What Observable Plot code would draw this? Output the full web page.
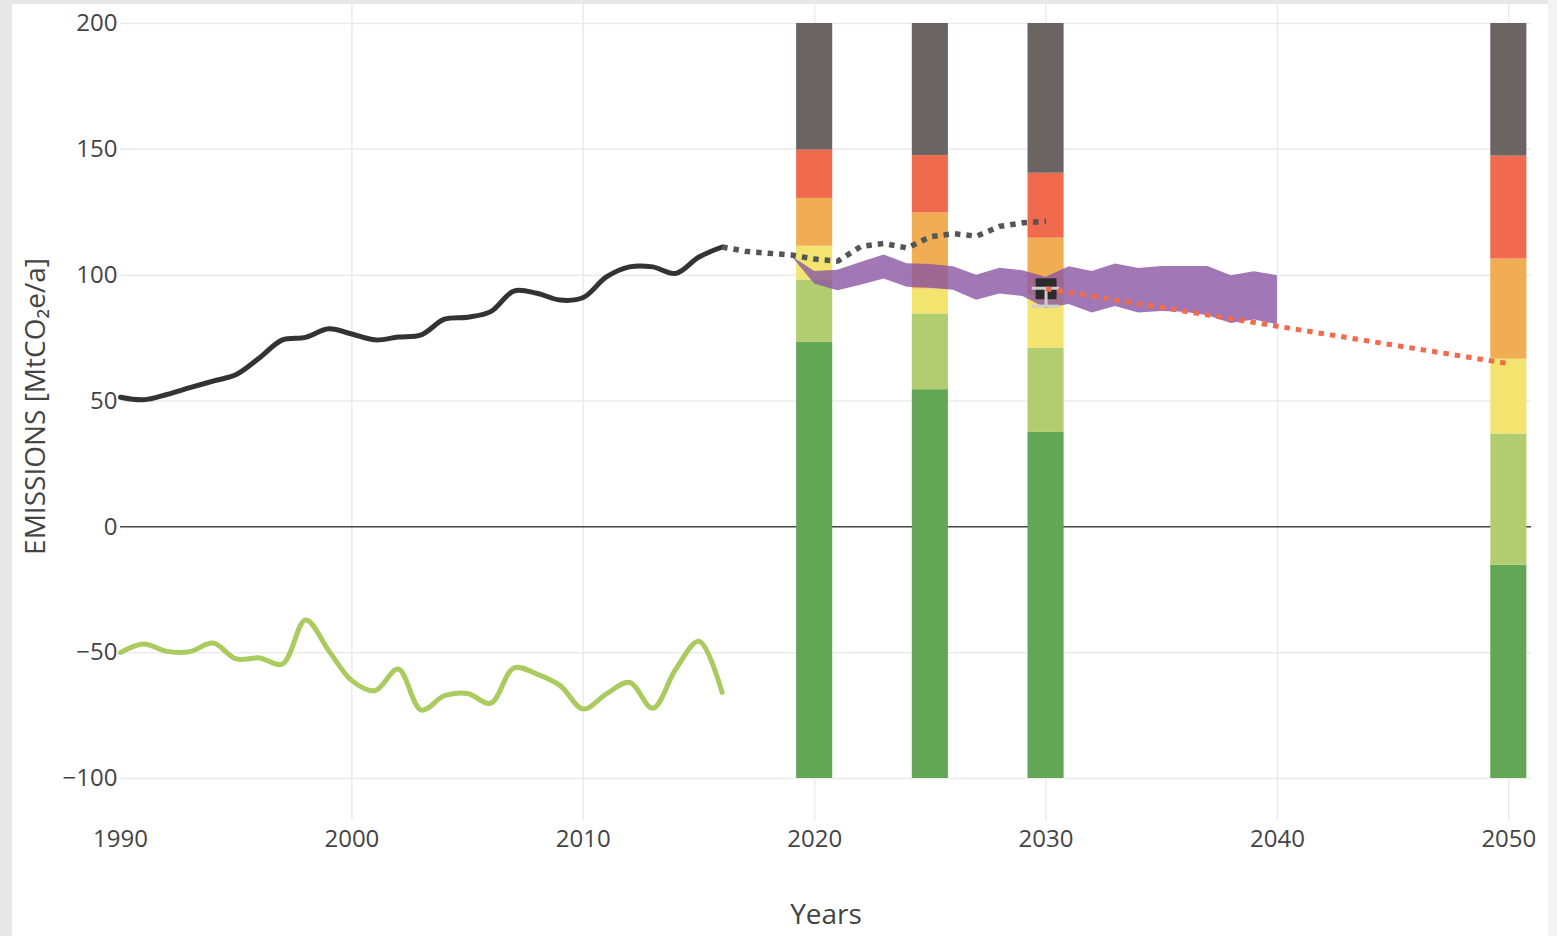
<!DOCTYPE html>
<html><head><meta charset="utf-8">
<script src="https://cdn.jsdelivr.net/npm/d3@7"></script>
<script src="https://cdn.jsdelivr.net/npm/@observablehq/plot@0.6"></script>
<style>
html,body{margin:0;padding:0;overflow:hidden;background:#e8e8e8;font-family:"Open Sans",sans-serif;}
#card{position:absolute;left:12px;top:4px;width:1536px;height:932px;background:#fff;}
#strip{position:absolute;left:1548px;top:0;width:9px;height:936px;background:#f4f4f4;}
#chart{position:absolute;left:0;top:0;}
</style></head><body>
<div id="card"></div><div id="strip"></div><div id="chart"></div>
<script>
// ---- data ----
const xTicks = [1990, 2000, 2010, 2020, 2030, 2040, 2050];
const yTicks = [-100, -50, 0, 50, 100, 150, 200];
const xLabel = "Years";
const yLabel = "EMISSIONS [MtCO₂e/a]";

const histYears = [1990,1991,1992,1993,1994,1995,1996,1997,1998,1999,2000,2001,2002,2003,2004,2005,2006,2007,2008,2009,2010,2011,2012,2013,2014,2015,2016];
const histEmissions = [51.5,50.5,52.6,55.3,57.9,60.5,67.1,74.3,75.3,78.7,76.6,74.3,75.4,76.3,82.5,83.3,85.5,93.7,92.8,90.1,91.1,99.3,103.3,103.3,100.7,107.2,111.2];
const histSinks = [-50,-46.6,-49.5,-49.6,-46.2,-52.5,-52.1,-54.5,-37.0,-49.2,-61.1,-65.1,-56.5,-72.8,-67.1,-66.2,-70.1,-56.1,-58.5,-63.1,-72.4,-66.4,-61.8,-72.1,-56.5,-45.5,-65.8];

const projYears = [2016,2017,2018,2019,2020,2021,2022,2023,2024,2025,2026,2027,2028,2029,2030];
const projValues = [111.2,109.5,108.7,108.0,106.4,105.6,111.4,112.6,110.8,115.3,116.5,115.5,119.4,120.8,121.4];

const rangeYears = [2019,2020,2021,2022,2023,2024,2025,2026,2027,2028,2029,2030,2031,2032,2033,2034,2035,2036,2037,2038,2039,2040];
const rangeHigh = [107.5,101.5,102,105,108,104.5,104.2,103.3,100,102.7,101.8,99.2,103.3,101.5,104.4,102.6,103.4,103.4,103.4,99.8,101.4,99.8];
const rangeLow  = [107.5,96.5,93.8,96,98.5,95.2,94.8,94,90,92.5,91.5,86.8,88.3,85,87.5,85,85.6,85.3,83.9,80.8,82.2,80.3];

const pathwayYears = [2030, 2050];
const pathwayValues = [94.6, 64.8];

const targetYear = [2030];
const targetValue = [94.6];
const targetLow = [87.7];
const targetHigh = [94.8];

const barYears = [2020, 2025, 2030, 2050];
const bandColors = ["#63a656", "#b2cd6f", "#f2e46f", "#f0ad54", "#f06b4e", "#6b6462"];
const levels2020 = [-100, 73.3, 98.1, 111.5, 130.5, 149.7, 200];
const levels2025 = [-100, 54.5, 84.6, 94.5, 124.7, 147.5, 200];
const levels2030 = [-100, 37.5, 71.0, 92.0, 114.7, 140.5, 200];
const levels2050 = [-100, -15.3, 36.9, 66.6, 106.4, 147.3, 200];
const barLevels = [levels2020, levels2025, levels2030, levels2050];

// ---- tables built from the arrays ----
const barHalf = 0.78;
const barRects = [];
barYears.forEach((yr, i) => {
  const lv = barLevels[i];
  for (let j = 0; j < lv.length - 1; j++) {
    barRects.push({year: yr, lo: lv[j], hi: lv[j+1], color: bandColors[j]});
  }
});
const hist = histYears.map((y, i) => ({year: y, v: histEmissions[i]}));
const sinks = histYears.map((y, i) => ({year: y, v: histSinks[i]}));
const proj = projYears.map((y, i) => ({year: y, v: projValues[i]}));
const range = rangeYears.map((y, i) => ({year: y, hi: rangeHigh[i], lo: rangeLow[i]}));
const pathway = pathwayYears.map((y, i) => ({year: y, v: pathwayValues[i]}));
const target = targetYear.map((y, i) => ({year: y, v: targetValue[i], lo: targetLow[i], hi: targetHigh[i]}));
const caps = target.flatMap(d => [{year: d.year, v: d.lo}, {year: d.year, v: d.hi}]);
const capHalf = 0.6;

const fmtY = d => d < 0 ? "\u2212" + Math.abs(d) : String(d);

const chart = Plot.plot({
  width: 1557, height: 936,
  marginLeft: 120, marginRight: 26, marginTop: 4, marginBottom: 116,
  x: {domain: [1990, 2050.98], label: null},
  y: {domain: [-116.69, 207.55], label: null},
  style: {background: "transparent", fontFamily: "'Open Sans', sans-serif", color: "#444", overflow: "visible"},
  marks: [
    Plot.gridX(xTicks.filter(d => d !== 1990), {stroke: "#ebebeb", strokeOpacity: 1, strokeWidth: 1.5}),
    Plot.gridY(yTicks.filter(d => d !== 0), {stroke: "#ebebeb", strokeOpacity: 1, strokeWidth: 1.5}),
    Plot.ruleY([0], {stroke: "#444", strokeWidth: 1.5}),
    Plot.rect(barRects, {x1: d => d.year - barHalf, x2: d => d.year + barHalf, y1: "lo", y2: "hi", fill: "color"}),
    Plot.areaY(range, {x: "year", y1: "lo", y2: "hi", fill: "#8a56a2", fillOpacity: 0.8}),
    Plot.line(hist, {x: "year", y: "v", stroke: "#333", strokeWidth: 5, curve: "catmull-rom"}),
    Plot.line(sinks, {x: "year", y: "v", stroke: "#a9cb5f", strokeWidth: 5, curve: "catmull-rom"}),
    Plot.line(proj, {x: "year", y: "v", stroke: "#555", strokeWidth: 5.5, strokeDasharray: "5.5,6", strokeLinecap: "butt"}),
    Plot.dot(target, {x: "year", y: "v", symbol: "square", r: 11.8, fill: "#2b2b2b", stroke: "none"}),
    Plot.ruleX(target, {x: "year", y1: "lo", y2: "hi", stroke: "#cfcfcf", strokeWidth: 3}),
    Plot.ruleY(caps, {y: "v", x1: d => d.year - capHalf, x2: d => d.year + capHalf, stroke: "#cfcfcf", strokeWidth: 3}),
    Plot.line(pathway, {x: "year", y: "v", stroke: "#f26b4c", strokeWidth: 5, strokeDasharray: "5.5,6", strokeLinecap: "butt"}),
    Plot.axisX(xTicks, {tickSize: 0, tickPadding: 9, fontSize: 24, tickFormat: d => String(d), label: null}),
    Plot.axisY(yTicks, {tickSize: 0, tickPadding: 3, fontSize: 24, tickFormat: fmtY, label: null}),
    Plot.text([yLabel], {frameAnchor: "left", textAnchor: "middle", lineAnchor: "middle", dx: -84, dy: -6, rotate: -90, fontSize: 28, fill: "#444"}),
    Plot.text([xLabel], {frameAnchor: "bottom", textAnchor: "middle", lineAnchor: "middle", dy: 95, fontSize: 28, fill: "#444"})
  ]
});
document.getElementById("chart").appendChild(chart);
</script>
</body></html>
